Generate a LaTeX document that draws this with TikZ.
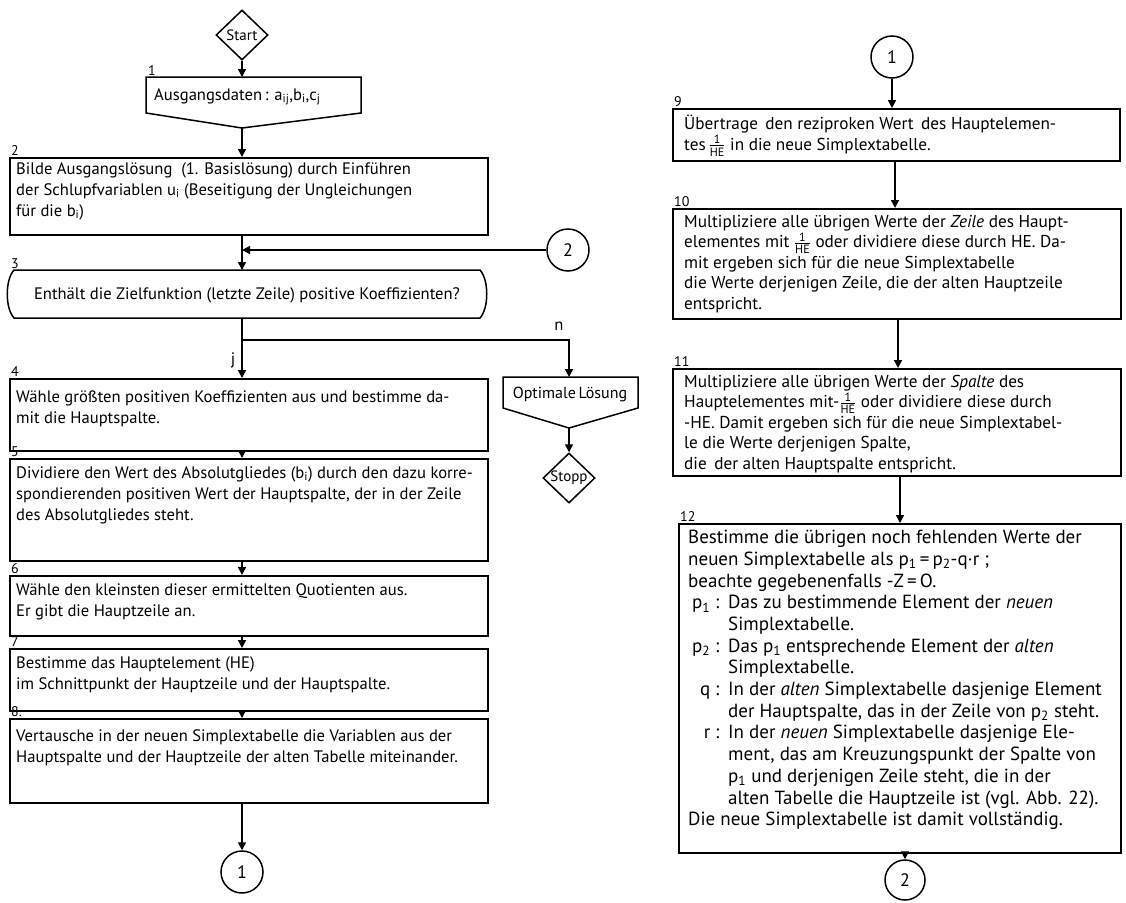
\documentclass[tikz,border=0pt]{standalone}
\usepackage{fontspec}
\setmainfont{PT Sans}
\usepackage{amsmath}
\usetikzlibrary{arrows.meta,shapes.geometric}

% small stacked fraction 1/HE that does not disturb the line spacing
\newcommand\invHE{\smash{\ensuremath{\genfrac{}{}{0.9pt}{1}{\mbox{\fontsize{12}{12}\selectfont 1}}{\mbox{\fontsize{12}{12}\selectfont HE}}}}}
% hanging labels of the legend in step 12
\newcommand\deflbl[1]{\makebox[40pt][l]{\makebox[22pt][r]{#1}\hspace{5pt}:}}
\newcommand\defind{\hspace*{40pt}}

\begin{document}
\begin{tikzpicture}[x=1pt,y=-1pt,
  every node/.style={font=\fontsize{16.6}{21}\selectfont},
  rtext/.style={font=\fontsize{17.2}{20.5}\selectfont},
  box/.style={draw, line width=1.5pt, rectangle, inner sep=0pt, anchor=north west},
  txt/.style={inner sep=0pt, anchor=north west, align=left},
  num/.style={inner sep=0pt, anchor=south west, xshift=2pt, yshift=1pt, font=\fontsize{14}{14}\selectfont},
  conn/.style={draw, circle, line width=1.5pt, minimum size=42pt, inner sep=0pt, font=\fontsize{18}{18}\selectfont},
  term/.style={draw, diamond, line width=1.5pt, minimum width=52pt, minimum height=50pt, inner sep=0pt},
  termtxt/.style={inner sep=0pt, font=\fontsize{15}{15}\selectfont},
  arr/.style={line width=1.5pt, -{Triangle[length=8pt,width=8pt]}},
  ln/.style={line width=1.5pt},
]
\useasboundingbox (0,0) rectangle (1126,902);
\fill[white] (0,0) rectangle (1126,902);

% ---------------- left column ----------------
\coordinate (axL) at (242,0);

\node[term] (start) at (242,35) {};
\node[termtxt] (starttxt) at (start) {Start};

% step 1: input data (display shape)
\coordinate (b1nw) at (146,77);
\coordinate (b1top) at (242,77);
\coordinate (b1tip) at (242,128);
\draw[ln] (b1nw) -- (361,77) -- (361,113) -- (b1tip) -- (146,113) -- cycle;
\node[txt] (t1) at (154,88) {Ausgangsdaten\,: a\textsubscript{ij},b\textsubscript{i},c\textsubscript{j}};
\node[num] (n1) at (b1nw) {1};
\draw[arr] (start.south) -- (b1top);

% step 2
\node[box, minimum width=478pt, minimum height=77pt] (b2) at (9,157) {};
\node[num] (n2) at (b2.north west) {2};
\node[txt] (t2) at (16,162) {Bilde Ausgangslösung \ (1. Basislösung) durch Einführen\\der Schlupfvariablen u\textsubscript{i} (Beseitigung der Ungleichungen\\für die b\textsubscript{i})};
\draw[arr] (b1tip) -- (b2.north -| axL);

% step 3: decision
\coordinate (b3nw) at (9,270);
\coordinate (b3top) at (242,270);
\coordinate (b3bot) at (242,318);
\draw[ln] (14,270) -- (480,270) .. controls (489,280) and (489,308) .. (480,318) -- (14,318) .. controls (5,308) and (5,280) .. (14,270) -- cycle;
\node[num] (n3) at (b3nw) {3};
\node[inner sep=0pt] (t3) at (247,295) {Enthält die Zielfunktion (letzte Zeile) positive Koeffizienten?};

\coordinate (jn2) at (242,250);
\node[conn] (c2L) at (568,250) {2};
\draw[arr] (b2.south -| axL) -- (b3top);
\draw[arr] (c2L.west) -- (jn2);

% branch j / n
\coordinate (jn3) at (242,340);
\coordinate (cn) at (569,340);
\coordinate (opttop) at (569,377);
\coordinate (opttip) at (569,428);
\node[box, minimum width=478pt, minimum height=72pt] (b4) at (9,378) {};
\draw[ln] (b3bot) -- (jn3);
\draw[arr] (jn3) -- (b4.north -| axL);
\draw[arr] (jn3) -- (cn) -- (opttop);
\node[inner sep=0pt] (labj) at (233,360) {j};
\node[inner sep=0pt] (labn) at (559,326) {n};

% optimal solution and stop
\draw[ln] (503,377) -- (638,377) -- (638,408) -- (opttip) -- (503,408) -- cycle;
\node[inner sep=0pt, font=\fontsize{16}{16}\selectfont] (topt) at (570,394) {Optimale\,Lösung};
\node[term] (stopp) at (569,478) {};
\node[termtxt] (stopptxt) at (stopp) {Stopp};
\draw[arr] (opttip) -- (stopp.north);

% step 4
\node[num] (n4) at (b4.north west) {4};
\node[txt] (t4) at (16,391) {Wähle größten positiven Koeffizienten aus und bestimme da-\\mit die Hauptspalte.};

% step 5
\node[box, minimum width=478pt, minimum height=102pt] (b5) at (9,458) {};
\node[num] (n5) at (b5.north west) {5};
\node[txt] (t5) at (16,466) {Dividiere den Wert des Absolutgliedes (b\textsubscript{i}) durch den dazu korre-\\spondierenden positiven Wert der Hauptspalte, der in der Zeile\\des Absolutgliedes steht.};
\draw[arr] (b4.south -| axL) -- (b5.north -| axL);

% step 6
\node[box, minimum width=478pt, minimum height=60pt] (b6) at (9,575) {};
\node[num] (n6) at (b6.north west) {6};
\node[txt] (t6) at (16,583) {Wähle den kleinsten dieser ermittelten Quotienten aus.\\Er gibt die Hauptzeile an.};
\draw[arr] (b5.south -| axL) -- (b6.north -| axL);

% step 7
\node[box, minimum width=478pt, minimum height=62pt] (b7) at (9,648) {};
\node[num] (n7) at (b7.north west) {7};
\node[txt] (t7) at (16,656) {Bestimme das Hauptelement (HE)\\im Schnittpunkt der Hauptzeile und der Hauptspalte.};
\draw[arr] (b6.south -| axL) -- (b7.north -| axL);

% step 8
\node[box, minimum width=478pt, minimum height=84pt] (b8) at (9,718) {};
\node[num] (n8) at (b8.north west) {8.};
\node[txt] (t8) at (16,729) {Vertausche in der neuen Simplextabelle die Variablen aus der\\Hauptspalte und der Hauptzeile der alten Tabelle miteinander.};
\draw[arr] (b7.south -| axL) -- (b8.north -| axL);

\node[conn] (c1L) at (242,872) {1};
\draw[arr] (b8.south -| axL) -- (c1L.north);

% ---------------- right column ----------------
\node[conn] (c1R) at (892,57) {1};

% step 9
\node[box, minimum width=447pt, minimum height=52pt] (b9) at (672,108) {};
\node[num] (n9) at (b9.north west) {9};
\node[txt, rtext] (t9) at (684,115) {Übertrage \,den reziproken Wert \,des Hauptelemen-\\tes\,\invHE\ in die neue Simplextabelle.};
\draw[arr] (c1R.south) -- (b9.north -| c1R);

% step 10
\coordinate (ax10) at (895,0);
\node[box, minimum width=448pt, minimum height=110pt] (b10) at (672,208) {};
\node[num] (n10) at (b10.north west) {10};
\node[txt, rtext] (t10) at (684,215) {Multipliziere alle übrigen Werte der \textit{Zeile} des Haupt-\\elementes mit \invHE\ oder dividiere diese durch HE. Da-\\mit ergeben sich für die neue Simplextabelle\\die Werte derjenigen Zeile, die der alten Hauptzeile\\entspricht.};
\draw[arr] (b9.south -| ax10) -- (b10.north -| ax10);

% step 11
\coordinate (ax11) at (898,0);
\node[box, minimum width=448pt, minimum height=107pt] (b11) at (672,368) {};
\node[num] (n11) at (b11.north west) {11};
\node[txt, rtext] (t11) at (684,375) {Multipliziere alle übrigen Werte der \textit{Spalte} des\\Hauptelementes mit-\invHE\ oder dividiere diese durch\\-HE. Damit ergeben sich für die neue Simplextabel-\\le die Werte derjenigen Spalte,\\die \,der alten Hauptspalte entspricht.};
\draw[arr] (b10.south -| ax11) -- (b11.north -| ax11);

% step 12
\coordinate (ax12) at (900,0);
\node[box, minimum width=442pt, minimum height=329pt] (b12) at (678,523) {};
\node[num] (n12) at (b12.north west) {12};
\node[txt, font=\fontsize{19}{21.7}\selectfont] (t12) at (688,530) {Bestimme die übrigen noch fehlenden Werte der\\
neuen Simplextabelle als p\textsubscript{1}\,=\,p\textsubscript{2}-q·r ;\\
beachte gegebenenfalls -Z\,=\,O.\\
\deflbl{p\textsubscript{1}}Das zu bestimmende Element der \textit{neuen}\\
\defind Simplextabelle.\\
\deflbl{p\textsubscript{2}}Das p\textsubscript{1} entsprechende Element der \textit{alten}\\
\defind Simplextabelle.\\
\deflbl{q}In der \textit{alten} Simplextabelle dasjenige Element\\
\defind der Hauptspalte, das in der Zeile von p\textsubscript{2} steht.\\
\deflbl{r}In der \textit{neuen} Simplextabelle dasjenige Ele-\\
\defind ment, das am Kreuzungspunkt der Spalte von\\
\defind p\textsubscript{1} und derjenigen Zeile steht, die in der\\
\defind alten Tabelle die Hauptzeile ist (vgl. Abb. 22).\\
Die neue Simplextabelle ist damit vollständig.};
\draw[arr] (b11.south -| ax12) -- (b12.north -| ax12);

\node[conn, minimum size=40pt] (c2R) at (905,880) {2};
\draw[arr] (b12.south -| c2R) -- (c2R.north);
\end{tikzpicture}
\end{document}
